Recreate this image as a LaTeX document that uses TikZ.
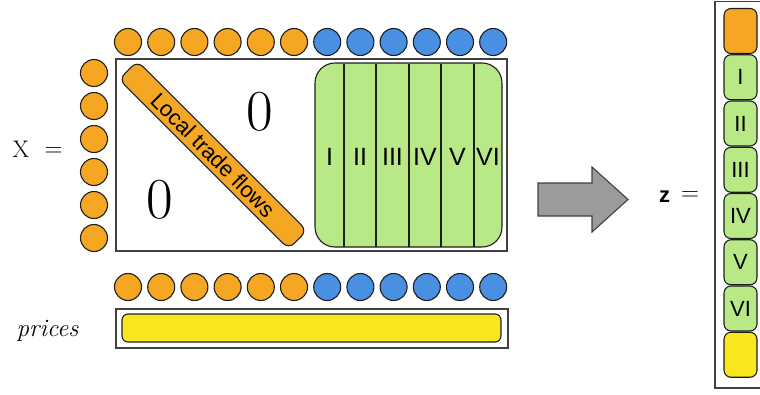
\documentclass[tikz,border=0pt]{standalone}
\usepackage{fontspec}
\newfontfamily\lsans{Liberation Sans}
\definecolor{ordorange}{HTML}{F5A623}
\definecolor{ordblue}{HTML}{4A90E2}
\definecolor{ordgreen}{HTML}{B8E986}
\definecolor{ordyellow}{HTML}{F8E71C}
\definecolor{ordline}{HTML}{1E1E1E}
\definecolor{ordgray}{HTML}{9B9B9B}
\begin{document}
\begin{tikzpicture}[x=1pt,y=-1pt,
  dot/.style={circle,draw=ordline,line width=1.1pt,minimum size=27pt,inner sep=0pt},
  odot/.style={dot,fill=ordorange},
  bdot/.style={dot,fill=ordblue},
  frame/.style={draw=ordline!85,line width=1.3pt,inner sep=0pt},
  cell/.style={draw=ordline,line width=1.1pt,rounded corners=7pt,minimum width=33pt,
    minimum height=45pt,inner sep=0pt,font=\lsans\fontsize{22}{22}\selectfont},
  num/.style={font=\lsans\fontsize{25}{25}\selectfont,inner sep=0pt},
  zero/.style={font=\fontsize{58}{58}\selectfont,inner sep=0pt}]
\useasboundingbox (0,0) rectangle (760,394);
\begin{scope}
\clip (0,0) rectangle (760,394);

% matrix frame
\node[frame,minimum width=391pt,minimum height=192pt] (X) at (311.5,155) {};
% price row frame
\node[frame,minimum width=392pt,minimum height=39pt] (P) at (312,328.5) {};

% column and row markers
\foreach \i in {0,...,5} {
  \node[odot] (top\i) at (128+33.2*\i,42) {};
  \node[odot] (bot\i) at (128+33.2*\i,287) {};
  \node[odot] (left\i) at (94,73+33*\i) {};
}
\foreach \i in {6,...,11} {
  \node[bdot] (top\i) at (128+33.2*\i,42) {};
  \node[bdot] (bot\i) at (128+33.2*\i,287) {};
}

% labels on the left
\node[font=\fontsize{24}{24}\selectfont,inner sep=0pt] (xlab) at (21,149.5) {X};
\node[font=\fontsize{26}{26}\selectfont,inner sep=0pt] (xeq) at (53.5,152) {$=$};
\node[font=\fontsize{25}{25}\selectfont\itshape,inner sep=0pt] (plab) at (47.5,331) {prices};

% local trade flows on the diagonal
\node[draw=ordline,line width=1.1pt,fill=ordorange,rounded corners=8pt,rotate=-45,
  minimum width=240pt,minimum height=26pt,inner sep=0pt,
  font=\lsans\fontsize{22}{22}\selectfont] (diag) at (213,155) {Local trade flows};

\node[zero] (z1) at (260,112) {0};
\node[zero] (z2) at (160,200) {0};

% sector block
\node[draw=ordline,line width=1.1pt,fill=ordgreen,rounded corners=20pt,
  minimum width=187pt,minimum height=184pt,inner sep=0pt] (G) at (408.5,155) {};
\foreach \x in {344,376,409,441,474}
  \draw[ordline,line width=1.1pt] (\x,63.5) -- (\x,246.5);
\node[num] (s1) at (329.5,157) {I};
\node[num] (s2) at (360,157) {II};
\node[num] (s3) at (392.5,157) {III};
\node[num] (s4) at (425,157) {IV};
\node[num] (s5) at (457.5,157) {V};
\node[num] (s6) at (488,157) {VI};

% price bar
\node[draw=ordline,line width=1.1pt,fill=ordyellow,rounded corners=6pt,
  minimum width=379pt,minimum height=28pt,inner sep=0pt] (bar) at (311.5,328) {};

% block arrow
\draw[draw=ordline!85,line width=1.1pt,fill=ordgray]
  (538,183) -- (592,183) -- (592,167) -- (628,199.5) -- (592,232) -- (592,216) -- (538,216) -- cycle;

% vector z
\node[font=\lsans\fontsize{22}{22}\selectfont\bfseries,inner sep=0pt] (zlab) at (664.5,197) {z};
\node[font=\fontsize{24}{24}\selectfont,inner sep=0pt] (zeq) at (690,196) {$=$};
\draw[ordline!85,line width=1.3pt] (715,1.5) rectangle (766,388);
\node[cell,fill=ordorange] (c0) at (740.5,31) {};
\node[cell,fill=ordgreen] (c1) at (740.5,77.25) {I};
\node[cell,fill=ordgreen] (c2) at (740.5,123.5) {II};
\node[cell,fill=ordgreen] (c3) at (740.5,169.75) {III};
\node[cell,fill=ordgreen] (c4) at (740.5,216) {IV};
\node[cell,fill=ordgreen] (c5) at (740.5,262.25) {V};
\node[cell,fill=ordgreen] (c6) at (740.5,308.5) {VI};
\node[cell,fill=ordyellow] (c7) at (740.5,354.75) {};
\end{scope}
\end{tikzpicture}
\end{document}
